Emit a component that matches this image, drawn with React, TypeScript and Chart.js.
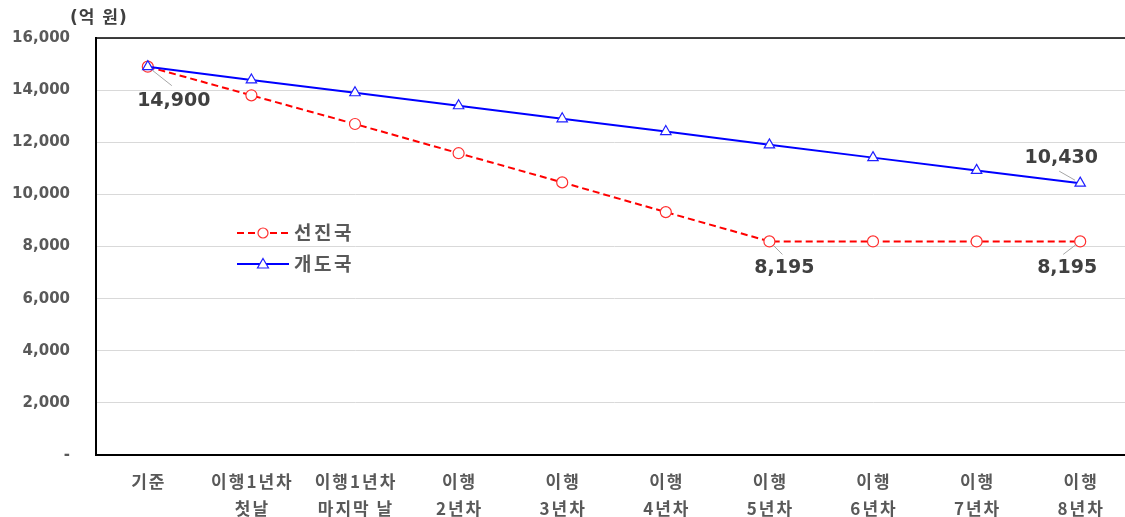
import React, { useEffect, useRef } from "react";
import { Chart, registerables } from "chart.js";

Chart.register(...registerables);

const categories: string[][] = [
  ["기준"],
  ["이행1년차", "첫날"],
  ["이행1년차", "마지막 날"],
  ["이행", "2년차"],
  ["이행", "3년차"],
  ["이행", "4년차"],
  ["이행", "5년차"],
  ["이행", "6년차"],
  ["이행", "7년차"],
  ["이행", "8년차"],
];

const advancedLabel = "선진국";
const developingLabel = "개도국";

const advancedValues = [14900, 13800, 12700, 11580, 10460, 9320, 8195, 8195, 8195, 8195];
const developingValues = [14900, 14390, 13900, 13400, 12900, 12410, 11900, 11410, 10920, 10430];

const yTicks = [0, 2000, 4000, 6000, 8000, 10000, 12000, 14000, 16000];
const unitLabel = "(억 원)";

// which points get a value callout: [datasetIndex, pointIndex]
const calloutPoints: [number, number][] = [
  [0, 0],
  [0, 6],
  [0, 9],
  [1, 9],
];

const FONT = '"DejaVu Sans", "Noto Sans CJK KR", sans-serif';
const KFONT = '"Noto Sans CJK KR", sans-serif';
const TEXT = "#595959";

const fmt = (v: number) => (v === 0 ? "-" : v.toLocaleString("en-US"));

export default function App() {
  const ref = useRef<HTMLCanvasElement | null>(null);

  useEffect(() => {
    document.body.style.margin = "0";
    document.body.style.overflow = "hidden";
    const canvas = ref.current;
    if (!canvas) return;

    const calloutStyle: Record<string, { lx: number; ly: number; ex: number; ey: number }> = {
      "0-0": { lx: 26, ly: 34, ex: 24, ey: 19 },
      "0-6": { lx: 15, ly: 27, ex: 13, ey: 13 },
      "0-9": { lx: -13, ly: 27, ex: -17, ey: 13 },
      "1-9": { lx: -19, ly: -25, ex: -21, ey: -12 },
    };

    const decorations = {
      id: "decorations",
      afterDatasetsDraw(chart: any) {
        const { ctx, chartArea } = chart;
        ctx.save();
        // top frame line
        ctx.strokeStyle = "#000";
        ctx.lineWidth = 1.5;
        ctx.beginPath();
        ctx.moveTo(chartArea.left, chartArea.top);
        ctx.lineTo(chartArea.right, chartArea.top);
        ctx.stroke();

        // category labels under the x axis (wider tracking for Hangul)
        const xs = chart.scales.x;
        ctx.fillStyle = TEXT;
        ctx.font = `bold 17px ${KFONT}`;
        ctx.textAlign = "center";
        ctx.textBaseline = "middle";
        (ctx as any).letterSpacing = "2px";
        (chart.data.labels as string[][]).forEach((lines, i) => {
          const x = xs.getPixelForTick(i) + 1;
          lines.forEach((line, j) => {
            ctx.fillText(line, x, chartArea.bottom + 27 + j * 26.5);
          });
        });

        // value callouts
        (ctx as any).letterSpacing = "0px";
        calloutPoints.forEach(([di, pi]) => {
          const pt = chart.getDatasetMeta(di).data[pi];
          const s = calloutStyle[`${di}-${pi}`];
          const v = chart.data.datasets[di].data[pi] as number;
          const len = Math.hypot(s.ex, s.ey);
          const sx = pt.x + (s.ex / len) * 6;
          const sy = pt.y + (s.ey / len) * 6;
          ctx.strokeStyle = "#a6a6a6";
          ctx.lineWidth = 1;
          ctx.beginPath();
          ctx.moveTo(sx, sy);
          ctx.lineTo(pt.x + s.ex, pt.y + s.ey);
          ctx.stroke();
          ctx.fillStyle = "#404040";
          ctx.font = `bold 19px ${FONT}`;
          ctx.textAlign = "center";
          ctx.textBaseline = "middle";
          ctx.fillText(fmt(v), pt.x + s.lx, pt.y + s.ly);
        });

        // legend inside plot
        const items = [0, 1].map((i) => chart.data.datasets[i]);
        const lx0 = 237;
        const lx1 = 289;
        const rows = [233, 264];
        items.forEach((ds: any, i: number) => {
          const y = rows[i];
          ctx.strokeStyle = ds.borderColor;
          ctx.lineWidth = 2;
          ctx.setLineDash(ds.borderDash || []);
          ctx.beginPath();
          ctx.moveTo(lx0, y);
          ctx.lineTo(lx1, y);
          ctx.stroke();
          ctx.setLineDash([]);
          ctx.fillStyle = "#fff";
          ctx.strokeStyle = ds.pointBorderColor;
          ctx.lineWidth = 1.2;
          const cx = (lx0 + lx1) / 2;
          if (ds.pointStyle === "circle") {
            ctx.beginPath();
            ctx.arc(cx, y, 5, 0, Math.PI * 2);
            ctx.fill();
            ctx.stroke();
          } else {
            ctx.beginPath();
            ctx.moveTo(cx, y - 5.5);
            ctx.lineTo(cx + 5.5, y + 4);
            ctx.lineTo(cx - 5.5, y + 4);
            ctx.closePath();
            ctx.fill();
            ctx.stroke();
          }
          ctx.fillStyle = TEXT;
          ctx.font = `bold 19px ${KFONT}`;
          ctx.textAlign = "left";
          ctx.textBaseline = "middle";
          (ctx as any).letterSpacing = "2.5px";
          ctx.fillText(ds.label, 294, y);
          (ctx as any).letterSpacing = "0px";
        });

        // unit label
        ctx.fillStyle = "#404040";
        ctx.font = `bold 17px ${FONT}`;
        ctx.textAlign = "left";
        ctx.textBaseline = "middle";
        (ctx as any).letterSpacing = "1px";
        ctx.fillText(unitLabel, 70, 19);
        (ctx as any).letterSpacing = "0px";
        ctx.restore();
      },
    };

    const chart = new Chart(canvas, {
      type: "line",
      data: {
        labels: categories,
        datasets: [
          {
            label: advancedLabel,
            data: advancedValues,
            borderColor: "#ff0000",
            borderWidth: 2,
            borderDash: [7, 4],
            pointStyle: "circle",
            pointRadius: 5.5,
            pointBackgroundColor: "#ffffff",
            pointBorderColor: "#ff3030",
            pointBorderWidth: 1.2,
            order: 1,
          },
          {
            label: developingLabel,
            data: developingValues,
            borderColor: "#0000ff",
            borderWidth: 2,
            pointStyle: "triangle",
            pointRadius: 6,
            pointBackgroundColor: "#ffffff",
            pointBorderColor: "#2020ff",
            pointBorderWidth: 1.2,
            order: 0,
          },
        ] as any,
      },
      options: {
        responsive: false,
        animation: false,
        layout: { padding: { left: 0, top: 38, right: 8, bottom: 0 } },
        plugins: {
          legend: { display: false },
          tooltip: { enabled: false },
        },
        scales: {
          x: {
            offset: true,
            grid: { display: false, drawTicks: false },
            border: { display: true, color: "#000", width: 2 },
            ticks: { display: false, autoSkip: false },
            afterFit(scale: any) {
              scale.height = 62;
            },
          },
          y: {
            min: 0,
            max: 16000,
            afterBuildTicks(scale: any) {
              scale.ticks = yTicks.map((v) => ({ value: v }));
            },
            grid: { color: "#d9d9d9", lineWidth: 1, drawTicks: false },
            border: { display: true, color: "#000", width: 2 },
            ticks: {
              color: TEXT,
              padding: 26,
              font: { family: FONT, size: 15, weight: "bold" },
              callback: (v: any) => fmt(Number(v)),
            },
            afterFit(scale: any) {
              scale.width = 96;
            },
          },
        },
      },
      plugins: [decorations],
    });

    return () => chart.destroy();
  }, []);

  return (
    <div style={{ width: 1140, height: 517, overflow: "hidden" }}>
      <canvas ref={ref} width={1140} height={517} />
    </div>
  );
}
